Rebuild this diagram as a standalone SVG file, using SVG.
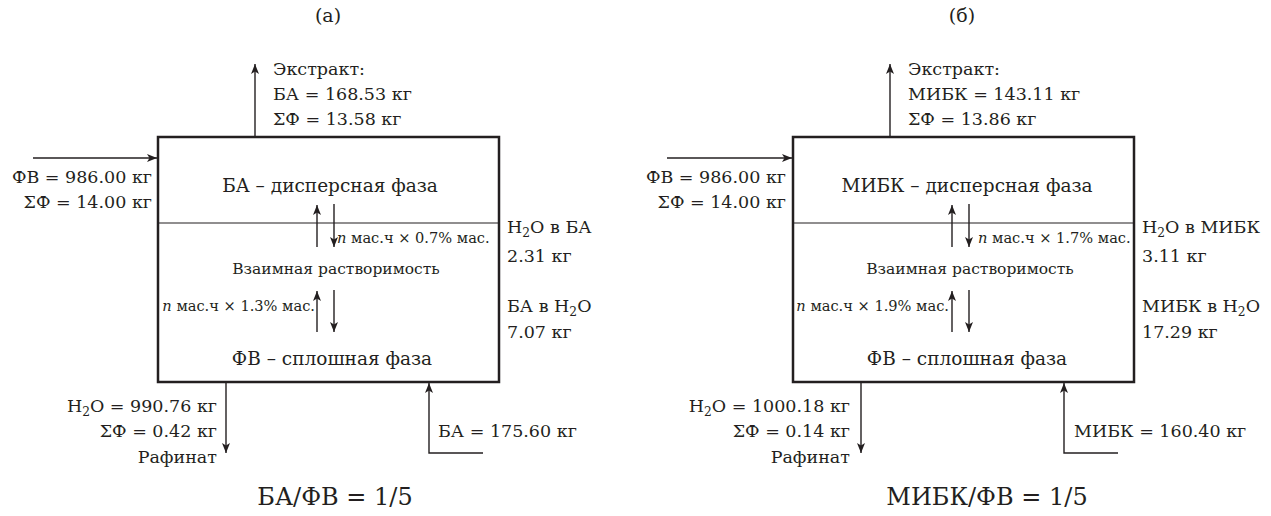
<svg xmlns="http://www.w3.org/2000/svg" width="1271" height="516" viewBox="0 0 1271 516">
<defs>
<marker id="ah" viewBox="0 0 10 8" refX="10" refY="4" markerWidth="10" markerHeight="8" markerUnits="userSpaceOnUse" orient="auto">
<path d="M0,0 L10,4 L0,8 L2.5,4 z" fill="#231f20"/>
</marker>
<style>
text{fill:#231f20;font-family:"DejaVu Serif",serif;}
.m{font-size:17.5px;}
.p{font-size:18.5px;}
.s{font-size:14.6px;}
.v{font-size:15.5px;}
.c{font-size:24px;}
.t{font-size:19px;}
.box{fill:#fff;stroke:#231f20;stroke-width:2.5;}
.div{stroke:#231f20;stroke-width:1.2;}
.ln{fill:none;stroke:#231f20;stroke-width:1.4;marker-end:url(#ah);}
.sub{font-size:70%;}
.i{font-style:italic;}
</style>
</defs>
<rect width="1271" height="516" fill="#fff"/>

<g id="panel-a">
<text class="t" x="328" y="22" text-anchor="middle">(a)</text>
<g id="box-a">
<rect class="box" x="158" y="137" width="341" height="245"/>
<line class="div" x1="158" y1="223" x2="499" y2="223"/>
<text class="p" x="330" y="192" text-anchor="middle">БА – дисперсная фаза</text>
<text class="v" x="336" y="274" text-anchor="middle">Взаимная растворимость</text>
<text class="p" x="332" y="365" text-anchor="middle">ФВ – сплошная фаза</text>
<text class="s" x="337" y="243"><tspan class="i">n</tspan> мас.ч × 0.7% мас.</text>
<text class="s" x="315" y="311" text-anchor="end"><tspan class="i">n</tspan> мас.ч × 1.3% мас.</text>
</g>
<g id="labels-a">
<text class="m" x="273" y="75">Экстракт:</text>
<text class="m" x="273" y="100">БА = 168.53 кг</text>
<text class="m" x="273" y="125">ΣФ = 13.58 кг</text>
<text class="m" x="152" y="183" text-anchor="end">ФВ = 986.00 кг</text>
<text class="m" x="152" y="208" text-anchor="end">ΣФ = 14.00 кг</text>
<text class="m" x="507" y="233">H<tspan class="sub" dy="4">2</tspan><tspan dy="-4">O в БА</tspan></text>
<text class="m" x="507" y="262">2.31 кг</text>
<text class="m" x="507" y="312">БА в H<tspan class="sub" dy="4">2</tspan><tspan dy="-4">O</tspan></text>
<text class="m" x="507" y="338">7.07 кг</text>
<text class="m" x="217" y="412" text-anchor="end">H<tspan class="sub" dy="4">2</tspan><tspan dy="-4">O = 990.76 кг</tspan></text>
<text class="m" x="217" y="437" text-anchor="end">ΣФ = 0.42 кг</text>
<text class="m" x="217" y="463" text-anchor="end">Рафинат</text>
<text class="m" x="438" y="437">БА = 175.60 кг</text>
<text class="c" x="335" y="505" text-anchor="middle">БА/ФВ = 1/5</text>
</g>
</g>

<g id="panel-b">
<text class="t" x="962" y="22" text-anchor="middle">(б)</text>
<g id="box-b">
<rect class="box" x="793" y="137" width="341" height="245"/>
<line class="div" x1="793" y1="223" x2="1134" y2="223"/>
<text class="p" x="967" y="192" text-anchor="middle">МИБК – дисперсная фаза</text>
<text class="v" x="970" y="274" text-anchor="middle">Взаимная растворимость</text>
<text class="p" x="967" y="365" text-anchor="middle">ФВ – сплошная фаза</text>
<text class="s" x="978" y="243"><tspan class="i">n</tspan> мас.ч × 1.7% мас.</text>
<text class="s" x="949" y="311" text-anchor="end"><tspan class="i">n</tspan> мас.ч × 1.9% мас.</text>
</g>
<g id="labels-b">
<text class="m" x="908" y="75">Экстракт:</text>
<text class="m" x="908" y="100">МИБК = 143.11 кг</text>
<text class="m" x="908" y="125">ΣФ = 13.86 кг</text>
<text class="m" x="786" y="183" text-anchor="end">ФВ = 986.00 кг</text>
<text class="m" x="786" y="208" text-anchor="end">ΣФ = 14.00 кг</text>
<text class="m" x="1142" y="233">H<tspan class="sub" dy="4">2</tspan><tspan dy="-4">O в МИБК</tspan></text>
<text class="m" x="1142" y="262">3.11 кг</text>
<text class="m" x="1142" y="312">МИБК в H<tspan class="sub" dy="4">2</tspan><tspan dy="-4">O</tspan></text>
<text class="m" x="1142" y="338">17.29 кг</text>
<text class="m" x="850" y="412" text-anchor="end">H<tspan class="sub" dy="4">2</tspan><tspan dy="-4">O = 1000.18 кг</tspan></text>
<text class="m" x="850" y="437" text-anchor="end">ΣФ = 0.14 кг</text>
<text class="m" x="850" y="463" text-anchor="end">Рафинат</text>
<text class="m" x="1074" y="437">МИБК = 160.40 кг</text>
<text class="c" x="987" y="505" text-anchor="middle">МИБК/ФВ = 1/5</text>
</g>
</g>

<g id="connectors">
<line class="ln" x1="33" y1="158" x2="157" y2="158"/>
<line class="ln" x1="255" y1="136" x2="255" y2="64"/>
<line class="ln" x1="226" y1="383" x2="226" y2="453"/>
<polyline class="ln" points="483,453 429,453 429,383"/>
<line class="ln" x1="317" y1="247" x2="317" y2="205"/>
<line class="ln" x1="334" y1="204" x2="334" y2="247"/>
<line class="ln" x1="317" y1="332" x2="317" y2="291"/>
<line class="ln" x1="334" y1="290" x2="334" y2="332"/>

<line class="ln" x1="667" y1="158" x2="792" y2="158"/>
<line class="ln" x1="890" y1="136" x2="890" y2="64"/>
<line class="ln" x1="861" y1="383" x2="861" y2="453"/>
<polyline class="ln" points="1118,453 1064,453 1064,383"/>
<line class="ln" x1="952" y1="247" x2="952" y2="205"/>
<line class="ln" x1="969" y1="204" x2="969" y2="247"/>
<line class="ln" x1="952" y1="332" x2="952" y2="291"/>
<line class="ln" x1="969" y1="290" x2="969" y2="332"/>
</g>
</svg>
